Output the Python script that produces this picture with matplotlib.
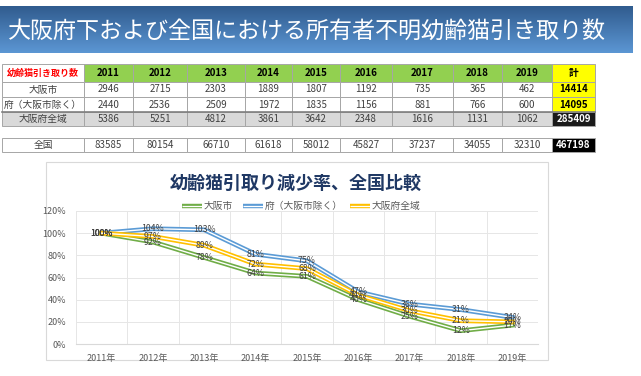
import numpy as np
import matplotlib.pyplot as plt
from matplotlib.patches import Rectangle

plt.rcParams['font.family'] = ['Noto Sans CJK JP', 'DejaVu Sans']

# table data
years = ['2011', '2012', '2013', '2014', '2015', '2016', '2017', '2018', '2019']
row_names = ['大阪市', '府（大阪市除く）', '大阪府全域']
osaka_city = [2946, 2715, 2303, 1889, 1807, 1192, 735, 365, 462]
pref_excl = [2440, 2536, 2509, 1972, 1835, 1156, 881, 766, 600]
pref_all = [5386, 5251, 4812, 3861, 3642, 2348, 1616, 1131, 1062]
national = [83585, 80154, 66710, 61618, 58012, 45827, 37237, 34055, 32310]
row_totals = [14414, 14095, 285409]
national_total = 467198

# chart data (percent of 2011, as labelled in the chart)
chart_years = [y + '年' for y in years]
pct_city = [100, 92, 78, 64, 61, 40, 25, 12, 17]
pct_excl = [100, 104, 103, 81, 75, 47, 36, 31, 24]
pct_all = [100, 97, 89, 72, 68, 44, 30, 21, 20]
series_names = ['大阪市', '府（大阪市除く）', '大阪府全域']

W, H = 641, 376
fig = plt.figure(figsize=(W / 100, H / 100), dpi=100)
fig.patch.set_facecolor('white')

# ---- title banner with gradient
bx = fig.add_axes([0, 1 - 53 / H, 633 / W, 47 / H])
top = np.array([0.19, 0.36, 0.56])
bot = np.array([0.36, 0.59, 0.83])
grad = np.linspace(0, 1, 64)[:, None, None] * (bot - top) + top
bx.imshow(np.repeat(grad, 4, axis=1), aspect='auto', extent=[0, 1, 0, 1])
bx.set_axis_off()
bx.text(0.012, 0.47, '大阪府下および全国における所有者不明幼齢猫引き取り数',
        color='white', fontsize=16.6, ha='left', va='center', transform=bx.transAxes)

# ---- table drawn in pixel coordinates
tx = fig.add_axes([0, 0, 1, 1], zorder=0)
tx.set_xlim(0, W)
tx.set_ylim(H, 0)
tx.set_axis_off()

edges = [2, 84, 133, 187, 245, 292, 340, 392, 453, 502, 552, 595]
line_c = '#A6A6A6'
txt_c = '#404040'


def cell(i, y0, y1, text, face='white', color=txt_c, bold=False, size=7):
    x0, x1 = edges[i], edges[i + 1]
    tx.add_patch(Rectangle((x0, y0), x1 - x0, y1 - y0, facecolor=face,
                           edgecolor=line_c, lw=0.7))
    tx.text((x0 + x1) / 2, (y0 + y1) / 2, text, ha='center', va='center',
            fontsize=size, color=color, fontweight='bold' if bold else 'normal')


# header
cell(0, 64, 82, '幼齢猫引き取り数', color='#FF0000', bold=True, size=6.5)
for i, y in enumerate(years):
    cell(i + 1, 64, 82, y, face='#92D050', color='black', bold=True)
cell(10, 64, 82, '計', face='#FFFF00', color='black', bold=True)

rows = [osaka_city, pref_excl, pref_all]
row_y = [(82, 97), (97, 112), (112, 126)]
for r, (vals, (y0, y1)) in enumerate(zip(rows, row_y)):
    face = '#D9D9D9' if r == 2 else 'white'
    cell(0, y0, y1, row_names[r], face=face)
    for i, v in enumerate(vals):
        cell(i + 1, y0, y1, str(v), face=face)
    if r < 2:
        cell(10, y0, y1, str(row_totals[r]), face='#FFFF00', color='black', bold=True)
    else:
        cell(10, y0, y1, str(row_totals[r]), face='#1A1A1A', color='white', bold=True)
tx.plot([edges[0], edges[-1]], [112, 112], color='#7F7F7F', lw=1.2)

cell(0, 138, 152, '全国')
for i, v in enumerate(national):
    cell(i + 1, 138, 152, str(v))
cell(10, 138, 152, str(national_total), face='black', color='white', bold=True)

# chart frame, title and legend
tx.add_patch(Rectangle((46, 162), 502, 198, facecolor='white', edgecolor='#D9D9D9', lw=0.8))
tx.text(296, 183, '幼齢猫引取り減少率、全国比較', ha='center', va='center',
        fontsize=13, fontweight='bold', color='#1F3864')

colors = ['#70AD47', '#5B9BD5', '#FFC000']
leg = [(182, 202, series_names[0]), (243, 263, series_names[1]), (350, 370, series_names[2])]
for (x0, x1, name), c in zip(leg, colors):
    tx.plot([x0, x1], [206, 206], color=c, lw=3.2, solid_capstyle='butt')
    tx.plot([x0, x1], [206, 206], color='white', lw=0.9, solid_capstyle='butt')
    tx.text(x1 + 2, 206, name, ha='left', va='center', fontsize=7, color='#595959')

# ---- line chart
ax = fig.add_axes([76 / W, (H - 344) / H, 462 / W, 133 / H], zorder=2)
ax.patch.set_alpha(0)
x = np.arange(len(chart_years))
for vals, c in zip([pct_city, pct_excl, pct_all], colors):
    v = np.array(vals) / 100
    ax.plot(x, v, color=c, lw=3.4, solid_joinstyle='round')
    ax.plot(x, v, color='white', lw=1.0, solid_joinstyle='round')
for vals in [pct_city, pct_excl, pct_all]:
    for xi, v in zip(x, vals):
        ax.text(xi, v / 100, f'{v}%', ha='center', va='center', fontsize=6.3, color='#404040')

ax.set_xlim(-0.5, len(x) - 0.5)
ax.set_ylim(0, 1.2)
ax.set_yticks(np.arange(0, 1.21, 0.2))
ax.set_yticklabels([f'{int(round(t * 100))}%' for t in np.arange(0, 1.21, 0.2)])
ax.set_xticks(x)
ax.set_xticklabels(chart_years)
ax.set_xticks(np.arange(-0.5, len(x), 1), minor=True)
ax.grid(True, which='minor', axis='x', color='#E6E6E6', lw=0.7)
ax.grid(True, which='major', axis='y', color='#E6E6E6', lw=0.7)
ax.tick_params(axis='both', which='both', length=0, labelsize=6.5, labelcolor='#595959')
ax.tick_params(axis='x', pad=7)
ax.tick_params(axis='y', pad=7)
for s in ['top', 'right', 'left']:
    ax.spines[s].set_visible(False)
ax.spines['bottom'].set_color('#D9D9D9')
ax.set_axisbelow(True)

fig.savefig('out.png', dpi=100)
